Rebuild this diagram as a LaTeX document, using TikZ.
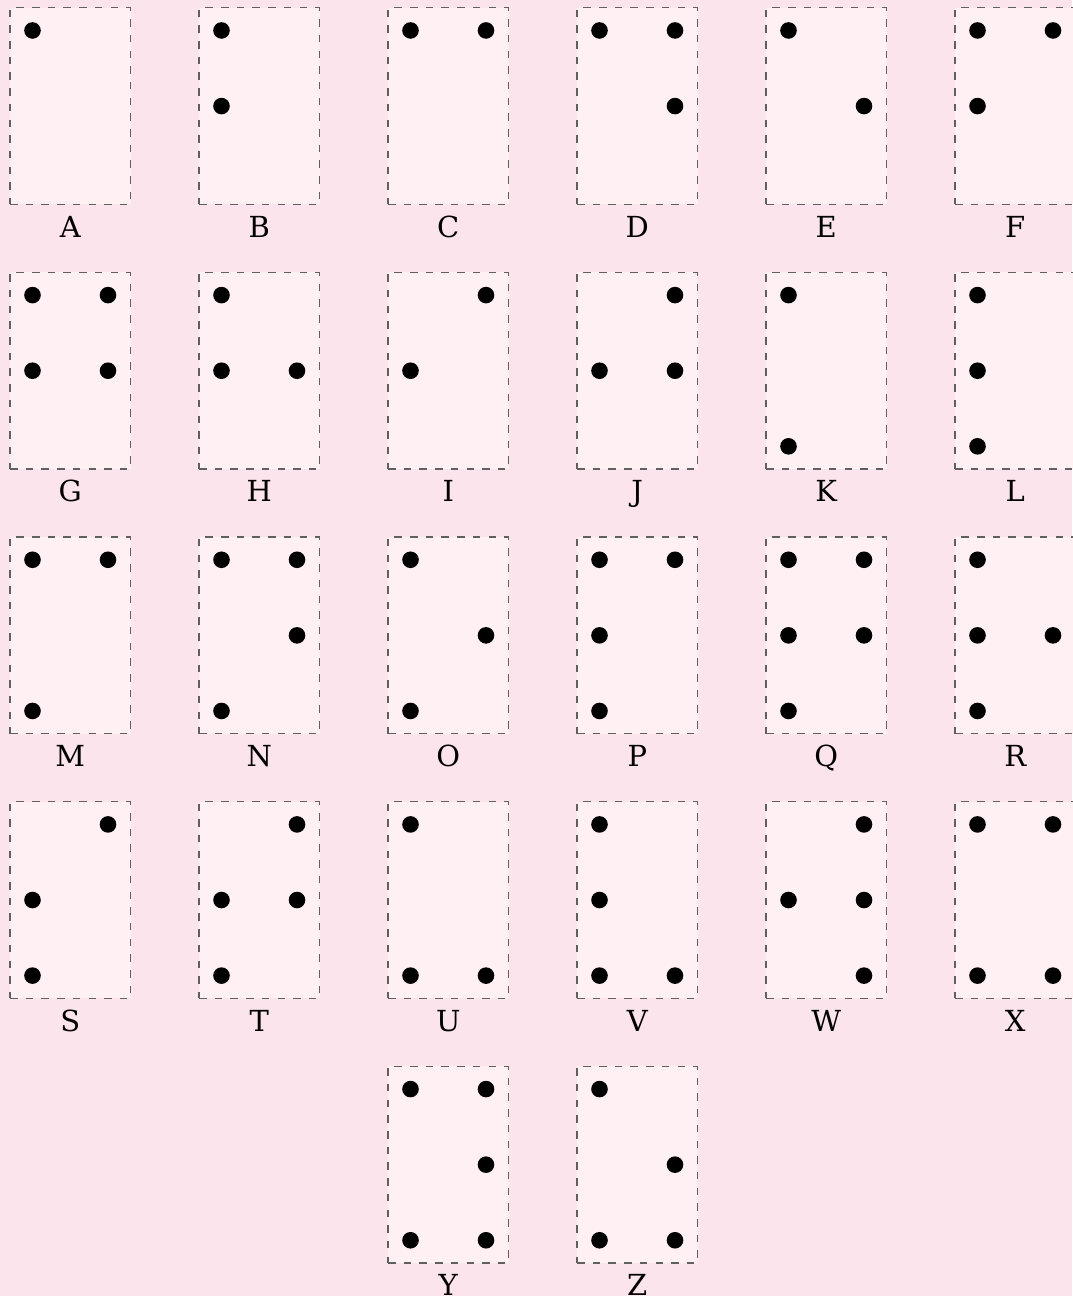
\documentclass[tikz,border=0pt]{standalone}
\usepackage{fontspec}
\setmainfont{DejaVu Serif}
\definecolor{bg}{HTML}{FCE4EC}
\definecolor{cell}{HTML}{FFF1F3}
\definecolor{edge}{HTML}{606060}
\begin{document}
\begin{tikzpicture}[x=1pt,y=-1pt,
  cellbox/.style={draw=edge, line width=1.5pt, dash pattern=on 7.5pt off 8.2pt, fill=cell, rectangle, minimum width=120.5pt, minimum height=196.7pt, inner sep=0pt, outer sep=0pt},
  bdot/.style={circle, fill=black, minimum size=16.6pt, inner sep=0pt, outer sep=0pt},
  lbl/.style={font=\fontsize{29}{35}\selectfont, anchor=base, inner sep=0pt}]
\fill[bg] (0,0) rectangle (1072,1296);
\useasboundingbox (0,0) rectangle (1072,1296);
\foreach \L/\c/\r/\ds in {
  A/0/0/{1}, B/1/0/{1,2}, C/2/0/{1,4}, D/3/0/{1,4,5}, E/4/0/{1,5}, F/5/0/{1,2,4},
  G/0/1/{1,2,4,5}, H/1/1/{1,2,5}, I/2/1/{2,4}, J/3/1/{2,4,5}, K/4/1/{1,3}, L/5/1/{1,2,3},
  M/0/2/{1,3,4}, N/1/2/{1,3,4,5}, O/2/2/{1,3,5}, P/3/2/{1,2,3,4}, Q/4/2/{1,2,3,4,5}, R/5/2/{1,2,3,5},
  S/0/3/{2,3,4}, T/1/3/{2,3,4,5}, U/2/3/{1,3,6}, V/3/3/{1,2,3,6}, W/4/3/{2,4,5,6}, X/5/3/{1,3,4,6},
  Y/2/4/{1,3,4,5,6}, Z/3/4/{1,3,5,6}}{
  \coordinate (\L-o) at ({10+189*\c+60.25},{7.7+264.65*\r+98.35});
  \node[cellbox] (\L-box) at (\L-o) {};
  \node[lbl] (\L-lbl) at ([shift={(0,131.25)}]\L-o) {\L};
  \foreach \d in \ds {
    \pgfmathsetmacro\dx{ifthenelse(\d<4,-37.75,37.75)}
    \pgfmathsetmacro\dy{75.6*(mod(\d-1,3)-1)}
    \node[bdot] (\L-d\d) at ([shift={(\dx,\dy)}]\L-o) {};
  }
}
\end{tikzpicture}
\end{document}
